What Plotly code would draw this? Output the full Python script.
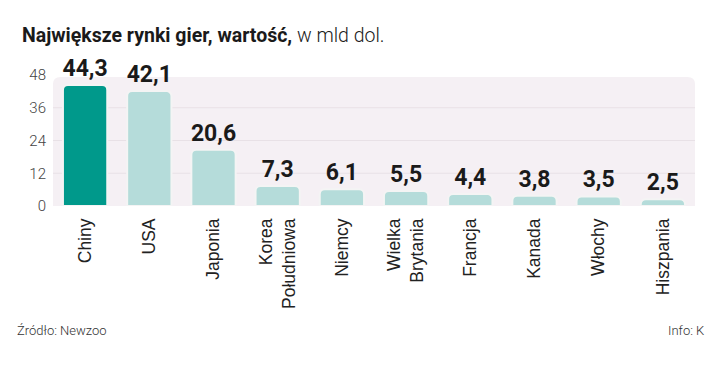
import plotly.graph_objects as go

categories = ["Chiny", "USA", "Japonia", "Korea<br>Południowa", "Niemcy",
              "Wielka<br>Brytania", "Francja", "Kanada", "Włochy", "Hiszpania"]
values = [44.3, 42.1, 20.6, 7.3, 6.1, 5.5, 4.4, 3.8, 3.5, 2.5]
value_labels = ["44,3", "42,1", "20,6", "7,3", "6,1", "5,5", "4,4", "3,8", "3,5", "2,5"]
y_ticks = [0, 12, 24, 36, 48]
grid_lines = [12, 24, 36]

HIGHLIGHT = "#00998b"
LIGHT = "#b5dcda"
colors = [HIGHLIGHT] + [LIGHT] * (len(values) - 1)

ROBOTO = "Roboto, sans-serif"

fig = go.Figure()
fig.add_trace(go.Bar(
    x=categories, y=values,
    marker=dict(color=colors, line=dict(color="#f4f4f4", width=2), cornerradius=5),
    text=value_labels, textposition="outside", constraintext="none",
    textfont=dict(family=ROBOTO, size=23, color="#1a1a1a", weight="bold"),
    cliponaxis=False, hoverinfo="skip",
))

# rounded background panel
dx, top, bot, dy = 0.012, 47.3, -0.6, 2.6
path = (f"M 0,{bot} L 0,{top-dy} Q 0,{top} {dx},{top} L {1-dx},{top} "
        f"Q 1,{top} 1,{top-dy} L 1,{bot} Z")
shapes = [dict(type="path", path=path, xref="paper", yref="y",
               fillcolor="#f5f0f4", line=dict(width=0), layer="below")]
for g in grid_lines:
    shapes.append(dict(type="line", xref="paper", yref="y", x0=0, x1=1, y0=g, y1=g,
                       line=dict(color="#e8e1e6", width=1), layer="below"))

fig.update_layout(
    width=721, height=380,
    margin=dict(l=45, r=34, t=67, b=182),
    paper_bgcolor="white", plot_bgcolor="rgba(0,0,0,0)",
    bargap=0.31, showlegend=False,
    shapes=shapes,
    title=dict(text="<b>Największe rynki gier, wartość,</b><span style='font-weight:300'> w mld dol.</span>",
               x=14/721, xanchor="left", xref="container",
               y=1 - 27/380, yanchor="middle", yref="container",
               font=dict(family=ROBOTO, size=19.5, color="#1a1a1a")),
    xaxis=dict(tickangle=-90, showgrid=False, showline=False, zeroline=False,
               automargin=False,
               tickfont=dict(family="Liberation Sans, Arial, sans-serif", size=17.5, color="#222222"),
               ticks="", ticklabelstandoff=8),
    yaxis=dict(range=[0, 48], tickvals=y_ticks, showgrid=False, zeroline=False,
               showline=False, ticks="", automargin=False,
               tickfont=dict(family=ROBOTO, size=15, color="#444444", weight=300),
               ticklabelstandoff=6),
    annotations=[
        dict(text="Źródło: Newzoo", xref="paper", yref="paper", x=-38/642, y=-124/131,
             xanchor="left", yanchor="middle", showarrow=False,
             font=dict(family=ROBOTO, size=13, color="#333333", weight=300)),
        dict(text="Info: K", xref="paper", yref="paper", x=1 + 11/642, y=-124/131,
             xanchor="right", yanchor="middle", showarrow=False,
             font=dict(family=ROBOTO, size=13, color="#333333", weight=300)),
    ],
)

fig.write_html("out.html")
